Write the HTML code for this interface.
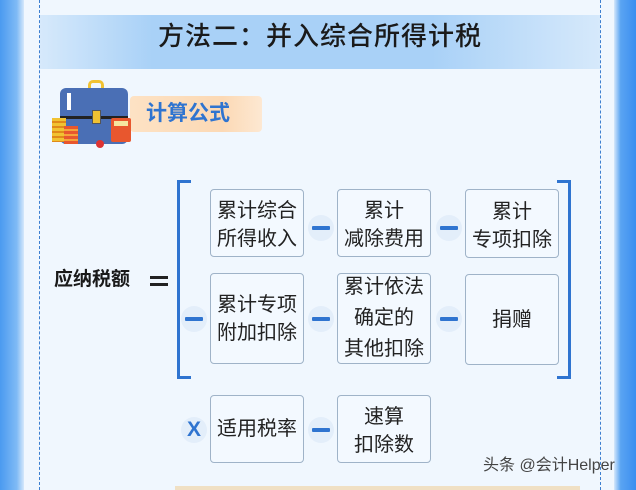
<!DOCTYPE html>
<html><head><meta charset="utf-8"><style>
*{margin:0;padding:0;box-sizing:border-box}
body{width:636px;height:490px;overflow:hidden;background:#f0f7fe;font-family:"Liberation Sans","Noto Sans CJK SC",sans-serif;position:relative}
.a{position:absolute}
.box{position:absolute;border:1px solid #9fb3c8;border-radius:4px;background:#f3f9ff;display:flex;align-items:center;justify-content:center;text-align:center;font-size:20px;line-height:28px;color:#222}
.m{position:absolute;width:26px;height:26px;border-radius:50%;background:#e3eefa}
.m:after{content:"";position:absolute;left:4px;top:11px;width:18px;height:4px;background:#2f74d0;border-radius:1px}
</style></head><body>
<div class="a" style="left:0;top:0;width:24px;height:490px;background:linear-gradient(90deg,#4a9af0,#7fbaf5 70%,#d5e8fb)"></div>
<div class="a" style="left:614px;top:0;width:22px;height:490px;background:linear-gradient(90deg,#d5e8fb,#5aa4f2 30%,#3a8ef0)"></div>
<div class="a" style="left:39px;top:0;height:490px;border-left:1px dashed #3d7fd0"></div>
<div class="a" style="left:600px;top:0;height:490px;border-left:1px dashed #3d7fd0"></div>
<div class="a" style="left:40px;top:15px;width:560px;height:54px;background:linear-gradient(90deg,#d6e9fb,#a9d1f7 20%,#a9d1f7 70%,#d6e9fb)"></div>
<div class="a" style="left:40px;top:19px;width:560px;text-align:center;font-size:26px;line-height:34px;color:#1a1a1a;letter-spacing:1px;font-weight:500">方法二：并入综合所得计税</div>
<div class="a" style="left:130px;top:96px;width:132px;height:36px;border-radius:4px;background:linear-gradient(90deg,#fde2c4,#fcd9b5 70%,#fde8d2)"></div>
<div class="a" style="left:146px;top:99px;font-size:21px;line-height:30px;font-weight:bold;color:#2f74d0">计算公式</div>
<div class="a" style="left:88px;top:80px;width:16px;height:10px;border:3px solid #f1c232;border-bottom:none;border-radius:5px 5px 0 0"></div>
<div class="a" style="left:60px;top:88px;width:68px;height:56px;background:#4a6fb5;border-radius:6px"></div>
<div class="a" style="left:60px;top:116px;width:68px;height:3px;background:#222"></div>
<div class="a" style="left:92px;top:110px;width:9px;height:14px;background:#f1c232;border:1px solid #555"></div>
<div class="a" style="left:67px;top:93px;width:4px;height:17px;background:#fff"></div>
<div class="a" style="left:52px;top:118px;width:14px;height:24px;background:repeating-linear-gradient(#f1c232 0 3px,#e08a1a 3px 5px)"></div>
<div class="a" style="left:64px;top:126px;width:14px;height:18px;background:repeating-linear-gradient(#e8572e 0 3px,#f6a33a 3px 5px)"></div>
<div class="a" style="left:111px;top:118px;width:20px;height:24px;background:#e8572e;border-radius:2px"></div>
<div class="a" style="left:114px;top:121px;width:14px;height:5px;background:#f5e6a0"></div>
<div class="a" style="left:96px;top:140px;width:8px;height:8px;border-radius:50%;background:#d33"></div>
<div class="a" style="left:54px;top:266px;font-size:19px;font-weight:bold;line-height:28px;color:#1a1a1a">应纳税额</div>
<div class="a" style="left:150px;top:276px;width:18px;height:3px;background:#222"></div>
<div class="a" style="left:150px;top:283px;width:18px;height:3px;background:#222"></div>
<div class="a" style="left:177px;top:180px;width:14px;height:199px;border:3px solid #2f74d0;border-right:none"></div>
<div class="a" style="left:557px;top:180px;width:14px;height:199px;border:3px solid #2f74d0;border-left:none"></div>
<div class="box" style="left:210px;top:189px;width:94px;height:68px;padding-top:4px">累计综合<br>所得收入</div>
<div class="box" style="left:337px;top:189px;width:94px;height:68px;padding-top:4px">累计<br>减除费用</div>
<div class="box" style="left:465px;top:189px;width:94px;height:69px;padding-top:4px">累计<br>专项扣除</div>
<div class="box" style="left:210px;top:273px;width:94px;height:91px">累计专项<br>附加扣除</div>
<div class="box" style="left:337px;top:273px;width:94px;height:91px;line-height:31px">累计依法<br>确定的<br>其他扣除</div>
<div class="box" style="left:465px;top:274px;width:94px;height:91px">捐赠</div>
<div class="box" style="left:210px;top:395px;width:94px;height:68px">适用税率</div>
<div class="box" style="left:337px;top:395px;width:94px;height:68px;padding-top:4px">速算<br>扣除数</div>
<div class="m" style="left:308px;top:215px"></div>
<div class="m" style="left:436px;top:215px"></div>
<div class="m" style="left:181px;top:306px"></div>
<div class="m" style="left:308px;top:306px"></div>
<div class="m" style="left:436px;top:306px"></div>
<div class="m" style="left:308px;top:417px"></div>
<div class="a" style="left:181px;top:417px;width:26px;height:26px;border-radius:50%;background:#e3eefa;color:#2f74d0;font-weight:bold;font-size:21px;line-height:26px;text-align:center">X</div>
<div class="a" style="left:483px;top:456px;font-size:16px;line-height:20px;color:#444">头条 @会计Helper</div>
<div class="a" style="left:175px;top:486px;width:405px;height:4px;background:#f0e0c4"></div>
</body></html>
